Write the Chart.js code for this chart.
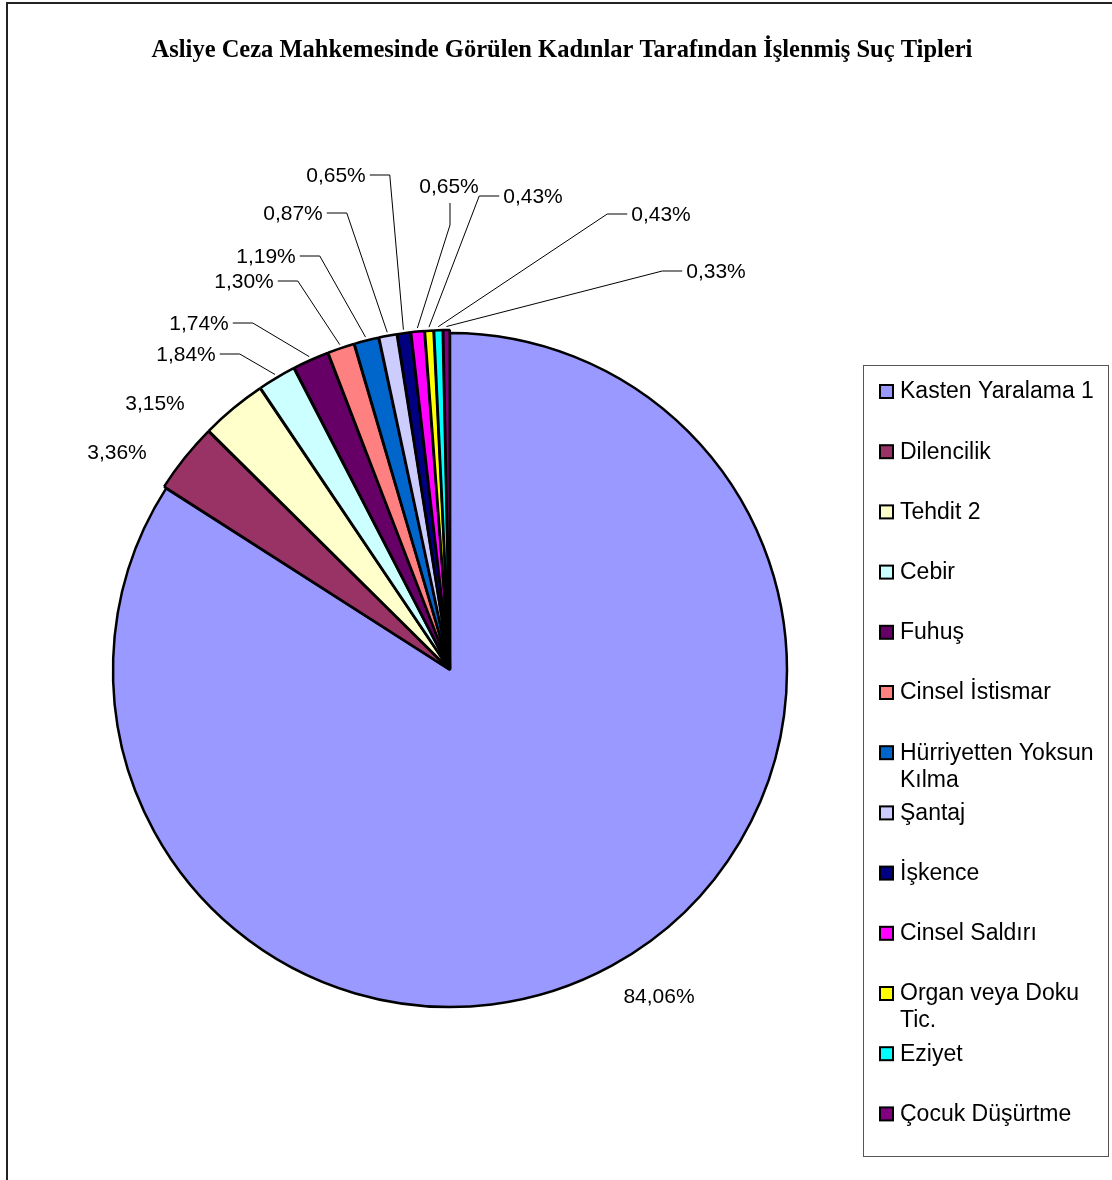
<!DOCTYPE html>
<html>
<head>
<meta charset="utf-8">
<script src="https://cdn.jsdelivr.net/npm/chart.js@4/dist/chart.umd.min.js"></script>
<style>
  html, body { margin: 0; padding: 0; background: #fff; }
  #wrap { width: 1112px; height: 1180px; position: relative; }
</style>
</head>
<body>
<div id="wrap"><canvas id="pie" width="1112" height="1180"></canvas></div>
<script>
// --- data ---
const categories = ['Kasten Yaralama 1', 'Dilencilik', 'Tehdit 2', 'Cebir', 'Fuhuş', 'Cinsel İstismar',
  'Hürriyetten Yoksun Kılma', 'Şantaj', 'İşkence', 'Cinsel Saldırı', 'Organ veya Doku Tic.', 'Eziyet', 'Çocuk Düşürtme'];
const percents = [84.06, 3.36, 3.15, 1.84, 1.74, 1.30, 1.19, 0.87, 0.65, 0.65, 0.43, 0.43, 0.33];
const sliceColors = ['#9999FF', '#993366', '#FFFFCC', '#CCFFFF', '#660066', '#FF8080',
  '#0066CC', '#CCCCFF', '#000080', '#FF00FF', '#FFFF00', '#00FFFF', '#800080'];
const chartTitle = 'Asliye Ceza Mahkemesinde Görülen Kadınlar Tarafından İşlenmiş Suç Tipleri';

// label layout: text centre and where the leader line leaves the text
const labelX = [659, 117, 155, 186, 199, 244, 266, 293, 336, 449, 533, 661, 716];
const labelY = [997, 453, 404, 355, 324, 282, 257, 214, 176, 187, 197, 215, 272];
const labelLeader = ['none', 'none', 'none', 'right', 'right', 'right', 'right', 'right', 'right', 'bottom', 'left', 'left', 'left'];

const fmt = v => v.toFixed(2).replace('.', ',') + '%';
const LABEL_FONT = '21px "Liberation Sans", Arial, sans-serif';
const LEGEND_FONT = '23px "Liberation Sans", Arial, sans-serif';

const decorPlugin = {
  id: 'decor',
  beforeDraw(chart) {
    const ctx = chart.ctx;
    ctx.save();
    ctx.fillStyle = '#fff';
    ctx.fillRect(0, 0, chart.width, chart.height);
    ctx.restore();
  },
  afterDraw(chart) {
    const ctx = chart.ctx;
    ctx.save();

    // frame (only top and left edges visible)
    ctx.strokeStyle = '#222';
    ctx.lineWidth = 2;
    ctx.beginPath();
    ctx.moveTo(7, 1180);
    ctx.lineTo(7, 3);
    ctx.lineTo(1112, 3);
    ctx.stroke();

    // title, sized to span the same width as the original
    ctx.fillStyle = '#000';
    ctx.font = 'bold 19px "Liberation Serif", "Times New Roman", serif';
    const tw = ctx.measureText(chartTitle).width;
    const tsize = Math.round(19 * 821 / tw * 10) / 10;
    ctx.font = 'bold ' + tsize + 'px "Liberation Serif", "Times New Roman", serif';
    ctx.textAlign = 'center';
    ctx.textBaseline = 'middle';
    ctx.fillText(chartTitle, 562, 51);

    // percentage labels + leader lines
    const arcs = chart.getDatasetMeta(0).data;
    ctx.font = LABEL_FONT;
    arcs.forEach((arc, i) => {
      const txt = fmt(percents[i]);
      const tx = labelX[i], ty = labelY[i];
      ctx.fillStyle = '#000';
      ctx.textAlign = 'center';
      ctx.textBaseline = 'middle';
      ctx.fillText(txt, tx, ty);
      if (labelLeader[i] === 'none') return;
      const p = arc.getProps(['x', 'y', 'startAngle', 'endAngle', 'outerRadius']);
      const off = arc.options.offset || 0;
      const mid = (p.startAngle + p.endAngle) / 2;
      const r = p.outerRadius + off - 1;
      const ax = p.x + Math.cos(mid) * (r + off / 4);
      const ay = p.y + Math.sin(mid) * (r + off / 4);
      const w = ctx.measureText(txt).width;
      let sx, sy, ex, ey;
      if (labelLeader[i] === 'right') {
        sx = tx + w / 2 + 4; sy = ty - 1; ex = sx + 20; ey = sy;
      } else if (labelLeader[i] === 'left') {
        sx = tx - w / 2 - 4; sy = ty - 1; ex = sx - 20; ey = sy;
      } else {
        sx = tx + 1; sy = ty + 16; ex = sx; ey = sy + 22;
      }
      ctx.strokeStyle = '#000';
      ctx.lineWidth = 1;
      ctx.beginPath();
      ctx.moveTo(sx, sy);
      ctx.lineTo(ex, ey);
      ctx.lineTo(ax, ay);
      ctx.stroke();
    });

    // legend box
    const lx = 863, ly = 365, lw = 245, lh = 791;
    ctx.strokeStyle = '#555';
    ctx.lineWidth = 1;
    ctx.strokeRect(lx + 0.5, ly + 0.5, lw, lh);
    ctx.textAlign = 'left';
    ctx.textBaseline = 'middle';
    ctx.font = LEGEND_FONT;
    const maxW = 205;
    categories.forEach((name, i) => {
      const cy = 391 + i * 60.2;
      ctx.fillStyle = sliceColors[i];
      ctx.fillRect(880, cy - 6, 13, 13);
      ctx.strokeStyle = '#000';
      ctx.lineWidth = 2;
      ctx.strokeRect(880, cy - 6, 13, 13);
      // wrap words
      const words = name.split(' ');
      const lines = [];
      let cur = '';
      words.forEach(wd => {
        const test = cur ? cur + ' ' + wd : wd;
        if (ctx.measureText(test).width > maxW && cur) { lines.push(cur); cur = wd; }
        else cur = test;
      });
      lines.push(cur);
      ctx.fillStyle = '#000';
      lines.forEach((ln, k) => ctx.fillText(ln, 900, cy + 1 + k * 27));
    });

    ctx.restore();
  }
};

new Chart(document.getElementById('pie'), {
  type: 'pie',
  data: {
    labels: categories,
    datasets: [{
      data: percents,
      backgroundColor: sliceColors,
      borderColor: '#000',
      borderWidth: 2.5,
      offset: percents.map((v, i) => (i === 0 ? 0 : 6)),
      radius: 337
    }]
  },
  options: {
    responsive: false,
    animation: false,
    layout: { padding: { left: 100, right: 312, top: 320, bottom: 160 } },
    plugins: {
      legend: { display: false },
      tooltip: { enabled: false },
      title: { display: false }
    }
  },
  plugins: [decorPlugin]
});
</script>
</body>
</html>
